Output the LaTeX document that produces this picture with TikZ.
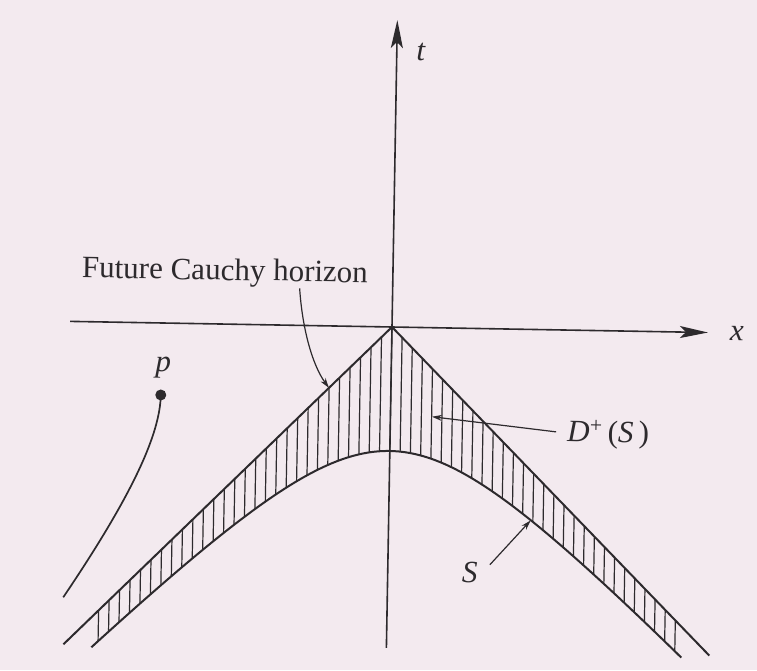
\documentclass[tikz,border=0pt]{standalone}
\usepackage{fontspec}
\setmainfont{Liberation Serif}
\usetikzlibrary{arrows.meta}
\definecolor{paper}{RGB}{243,234,239}
\definecolor{ink}{RGB}{45,42,45}
\begin{document}
\begin{tikzpicture}[x=10pt,y=10pt,
  axis/.style={ink, line width=1.6pt, -{Stealth[length=28pt,width=12pt,inset=6pt]}},
  bound/.style={ink, line width=2.0pt, line join=round},
  hatch/.style={ink, line width=1.2pt},
  pointer/.style={ink, line width=1.2pt, -{Stealth[length=10pt,width=6pt]}},
  lbl/.style={text=ink, font=\fontsize{31}{36}\selectfont, inner sep=0pt},
  ilbl/.style={text=ink, font=\fontsize{31}{36}\selectfont\itshape, inner sep=0pt},
  ]
\fill[paper] (-39.2,-34.3) rectangle (36.5,32.7);
\useasboundingbox (-39.2,-34.3) rectangle (36.5,32.7);
\begin{scope}[rotate=-1, transform shape]
  % axes
  \coordinate (O) at (0,0);
  \coordinate (tb) at (0,-32.1);
  \coordinate (tt) at (0,30.7);
  \coordinate (xl) at (-32.2,0);
  \coordinate (xr) at (31.6,0);
  \draw[axis] (tb) -- (tt);
  \draw[axis] (xl) -- (xr);
  \node[ilbl] (tlab) at (2.4,27.5) {t};
  \node[ilbl] (xlab) at (34.5,0) {x};
  % hatching between horizon and S
  \foreach \i in {-28,...,28} {
    \pgfmathsetmacro\xx{1.03*\i}
    \draw[hatch] (\xx,{-abs(\xx)}) -- (\xx,{-sqrt(153.76+(1.02*\xx)^2)});
  }
  % future Cauchy horizon
  \coordinate (hl) at (-32.3,-32.3);
  \coordinate (hr) at (32.3,-32.3);
  \draw[bound] (hl) -- (O) -- (hr);
  % surface S
  \draw[bound] plot[domain=-29.5:29.5, samples=81, smooth] (\x,{-sqrt(153.76+(1.02*\x)^2)});
  % labels and pointers
  \node[lbl, anchor=base] (fch) at (-16.8,4.4) {Future Cauchy horizon};
  \coordinate (fchs) at (-9.3,3.7);
  \coordinate (fcht) at (-6.2,-6.2);
  \draw[pointer] (fchs) .. controls (-9.0,0) and (-8.0,-3.8) .. (fcht);
  \node[lbl, anchor=west] (dlab) at (17.7,-10.4) {{\itshape D}\textsuperscript{+}\,({\itshape S}\,)};
  \coordinate (ds) at (16.6,-10.2);
  \coordinate (dt) at (4.15,-8.9);
  \draw[pointer] (ds) -- (dt);
  \node[ilbl] (slab) at (8.2,-24.4) {S};
  \coordinate (ss) at (10.2,-23.6);
  \coordinate (st) at (14.2,-19.1);
  \draw[pointer] (ss) -- (st);
  % point p and its curve
  \coordinate (pdot) at (-23.0,-7.2);
  \fill[ink] (pdot) circle (0.55);
  \node[ilbl] (plab) at (-22.8,-4.5) {p};
  \coordinate (pend) at (-32.4,-27.6);
  \draw[ink, line width=1.7pt] (pdot) .. controls (-23.0,-11) and (-25.5,-17) .. (pend);
\end{scope}
\end{tikzpicture}
\end{document}
